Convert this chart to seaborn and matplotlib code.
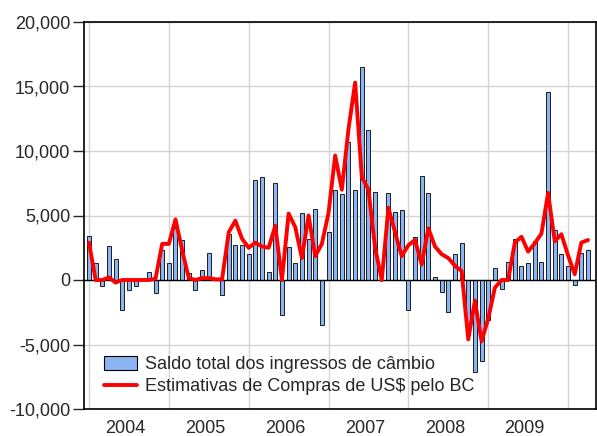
import numpy as np
import pandas as pd
import matplotlib.pyplot as plt
import seaborn as sns
from matplotlib.patches import Patch
from matplotlib.lines import Line2D
from matplotlib.ticker import FuncFormatter, MultipleLocator

years = [2004, 2005, 2006, 2007, 2008, 2009]

# saldo total dos ingressos de cambio, monthly, Jan 2004 - Apr 2010
saldo = [3400, 1300, -500, 2600, 1600, -2300, -800, -500, 100, 650, -1000, 2300,
         1300, 4000, 3100, 550, -800, 800, 2100, 50, -1200, 3600, 2750, 2750,
         2000, 7750, 7950, 650, 7550, -2700, 2550, 1300, 5200, 3200, 5500, -3450,
         3750, 6950, 6650, 10700, 6950, 16550, 11600, 6850, 0, 6750, 5300, 5400,
         -2350, 3300, 8100, 6750, 250, -900, -2450, 2000, 2900, -4300, -7100, -6300,
         -3100, 900, -700, 1400, 3200, 1100, 1300, 3000, 1400, 14600, 3900, 2000,
         1100, -350, 2100, 2350]

# estimativas de compras de US$ pelo BC
compras = [2900, 0, 0, 200, -200, 0, 0, 0, 0, 0, 100, 2800,
           2800, 4700, 2300, 150, 0, 150, 150, 50, 50, 3700, 4600, 3200,
           2500, 2900, 2600, 2500, 4200, 0, 5150, 4100, 1700, 5000, 1850, 2800,
           5200, 9650, 7000, 11700, 15300, 8000, 7000, 2500, 0, 5600, 3700, 1850,
           2700, 3100, 1200, 4000, 2600, 2000, 1700, 1100, 700, -4600, -1600, -4750,
           -3000, -600, 0, 0, 2900, 3350, 2200, 2850, 3600, 6750, 3000, 3550,
           1900, 450, 2900, 3100]

labels = ['Saldo total dos ingressos de câmbio', 'Estimativas de Compras de US$ pelo BC']

df = pd.DataFrame({'t': np.arange(len(saldo)), 'saldo': saldo, 'compras': compras})

sns.set_style('white')
plt.rcParams['font.family'] = ['Liberation Sans', 'DejaVu Sans']

bar_color = '#8db4f2'
fs = 13

fig = plt.figure(figsize=(5.97, 4.36), dpi=100)
ax = fig.add_axes([84 / 597, 1 - 409 / 436, (596 - 84) / 597, (409 - 22) / 436])

ax.set_axisbelow(True)
sns.barplot(data=df, x='t', y='saldo', native_scale=True, color=bar_color, saturation=1,
            edgecolor='black', linewidth=0.6, width=0.6, errorbar=None, ax=ax)
ax.axhline(0, color='black', lw=1, zorder=2.5)
sns.lineplot(data=df, x='t', y='compras', color='#ff0000', lw=2.8, ax=ax, zorder=3)

ax.set_xlim(-0.75, 76.2)
ax.set_ylim(-10000, 20000)
ax.yaxis.set_major_locator(MultipleLocator(5000))
ax.yaxis.set_major_formatter(FuncFormatter(lambda v, p: f'{v:,.0f}'))

starts = [12 * i for i in range(len(years) + 1)]
ax.set_xticks(starts)
ax.xaxis.set_minor_locator(MultipleLocator(3))
ax.tick_params(axis='x', which='major', length=8, width=1, labelbottom=False, direction='out')
ax.tick_params(axis='x', which='minor', length=5.5, width=1, direction='out')
ax.tick_params(axis='y', length=8, width=1, labelsize=fs, pad=2, direction='out', left=True)
ax.set_xlabel('')
ax.set_ylabel('')

sec = ax.secondary_xaxis('bottom')
sec.set_xticks([12 * i + 5.5 for i in range(len(years))], [str(y) for y in years])
sec.tick_params(length=0, pad=8, labelsize=fs)
sec.spines['bottom'].set_visible(False)

ax.grid(True, which='major', color='#d4d4d4', lw=1)
for s in ax.spines.values():
    s.set_color('black')
    s.set_linewidth(1.2)

handles = [Patch(facecolor=bar_color, edgecolor='black', lw=0.8),
           Line2D([], [], color='#ff0000', lw=2.8)]
ax.legend(handles, labels, loc='lower left', bbox_to_anchor=(0.039, 0.035), frameon=False,
          fontsize=fs, handlelength=1.85, handleheight=0.78, handletextpad=0.4,
          labelspacing=0.28, borderpad=0, borderaxespad=0)

fig.savefig('out.png', dpi=100)
